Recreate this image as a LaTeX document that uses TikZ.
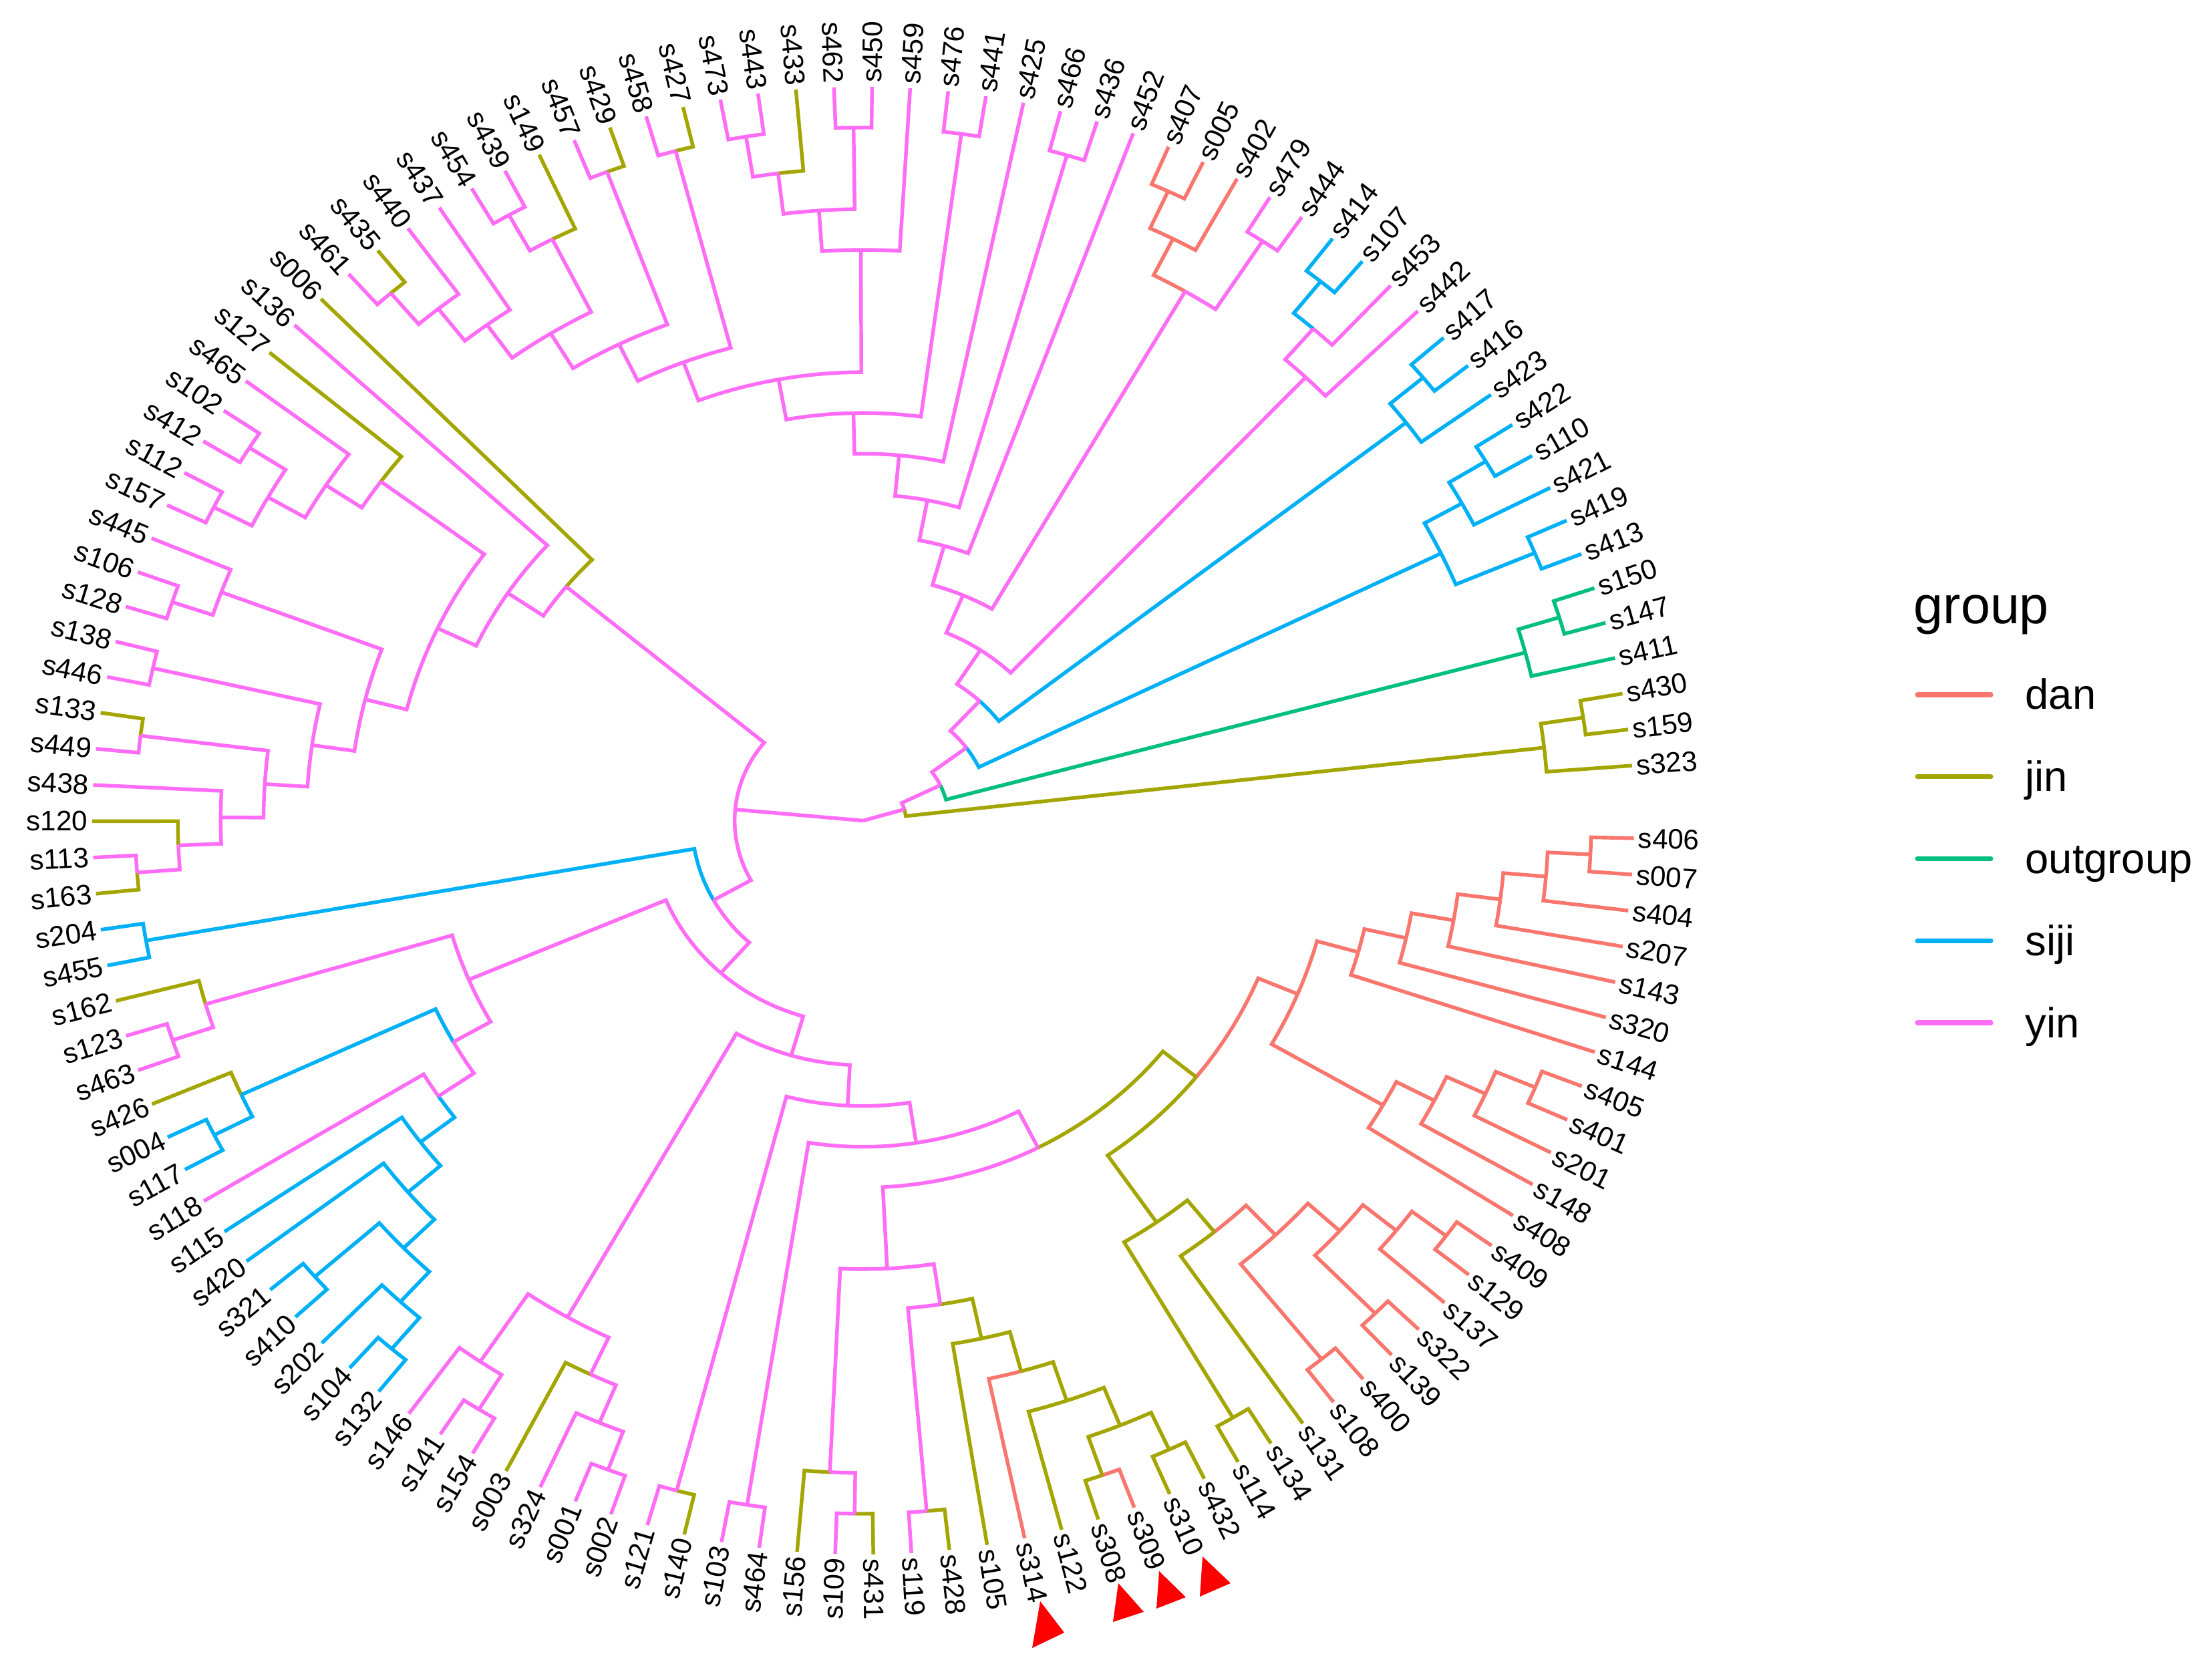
\documentclass[tikz,border=0pt]{standalone}
\usepackage{fontspec}
\setmainfont{Liberation Sans}
\definecolor{grp1}{HTML}{F8766D}
\definecolor{grp2}{HTML}{A3A500}
\definecolor{grp3}{HTML}{00BF7D}
\definecolor{grp4}{HTML}{00B0F6}
\definecolor{grp5}{HTML}{FF6CF5}
\newcommand\Rtip{11.54}
\newcommand\lev{0.64111}
\newcommand\tip[3]{%
  \pgfmathsetmacro\tipang{4.3+#2*2.8346}%
  \pgfmathsetmacro\labr{\Rtip+0.06}%
  \expandafter\xdef\csname ta@#1\endcsname{\tipang}%
  \expandafter\xdef\csname tr@#1\endcsname{\Rtip}%
  \expandafter\xdef\csname th@#1\endcsname{0}%
  \expandafter\xdef\csname tg@#1\endcsname{#3}%
  \coordinate (#1) at (\tipang:\Rtip);
  \pgfmathtruncatemacro\flip{and(\tipang>90,\tipang<270)}%
  \ifnum\flip=1
    \pgfmathsetmacro\labrot{\tipang-180}%
    \node[tiplab, anchor=east, rotate=\labrot] (lab#1) at (\tipang:\labr) {#1};
  \else
    \node[tiplab, anchor=west, rotate=\tipang] (lab#1) at (\tipang:\labr) {#1};
  \fi
}
\newcommand\twig[2]{%
  \edef\pa{\csname ta@#1\endcsname}%
  \edef\ca{\csname ta@#2\endcsname}%
  \edef\pr{\csname tr@#1\endcsname}%
  \edef\twigcol{grp\csname tg@#2\endcsname}%
  \draw[branch, draw=\twigcol] (#1) arc[start angle=\pa, end angle=\ca, radius=\pr] -- (#2);
}
\newcommand\clade[3]{%
  \edef\angb{\csname ta@#2\endcsname}\edef\angc{\csname ta@#3\endcsname}%
  \edef\hb{\csname th@#2\endcsname}\edef\hc{\csname th@#3\endcsname}%
  \edef\gb{\csname tg@#2\endcsname}\edef\gc{\csname tg@#3\endcsname}%
  \pgfmathsetmacro\cang{(\angb+\angc)/2}%
  \pgfmathtruncatemacro\chgt{max(\hb,\hc)+1}%
  \pgfmathtruncatemacro\cgrp{max(\gb,\gc)}%
  \pgfmathsetmacro\crad{(18-\chgt)*\lev}%
  \expandafter\xdef\csname ta@#1\endcsname{\cang}%
  \expandafter\xdef\csname tr@#1\endcsname{\crad}%
  \expandafter\xdef\csname th@#1\endcsname{\chgt}%
  \expandafter\xdef\csname tg@#1\endcsname{\cgrp}%
  \coordinate (#1) at (\cang:\crad);
  \twig{#1}{#2}\twig{#1}{#3}%
}
\begin{document}
\begin{tikzpicture}[
  branch/.style={line width=1.55pt},
  tiplab/.style={font=\fontsize{12}{14}\selectfont, inner sep=0pt}]
\useasboundingbox (0,0) rectangle (33.11,24.87);
\begin{scope}[shift={(12.92,12.585)}, yscale=0.952]
\tip{s323}{0}{2}
\tip{s159}{1}{2}
\tip{s430}{2}{2}
\tip{s411}{3}{3}
\tip{s147}{4}{3}
\tip{s150}{5}{3}
\tip{s413}{6}{4}
\tip{s419}{7}{4}
\tip{s421}{8}{4}
\tip{s110}{9}{4}
\tip{s422}{10}{4}
\tip{s423}{11}{4}
\tip{s416}{12}{4}
\tip{s417}{13}{4}
\tip{s442}{14}{5}
\tip{s453}{15}{5}
\tip{s107}{16}{4}
\tip{s414}{17}{4}
\tip{s444}{18}{5}
\tip{s479}{19}{5}
\tip{s402}{20}{1}
\tip{s005}{21}{1}
\tip{s407}{22}{1}
\tip{s452}{23}{5}
\tip{s436}{24}{5}
\tip{s466}{25}{5}
\tip{s425}{26}{5}
\tip{s441}{27}{5}
\tip{s476}{28}{5}
\tip{s459}{29}{5}
\tip{s450}{30}{5}
\tip{s462}{31}{5}
\tip{s433}{32}{2}
\tip{s443}{33}{5}
\tip{s473}{34}{5}
\tip{s427}{35}{2}
\tip{s458}{36}{5}
\tip{s429}{37}{2}
\tip{s457}{38}{5}
\tip{s149}{39}{2}
\tip{s439}{40}{5}
\tip{s454}{41}{5}
\tip{s437}{42}{5}
\tip{s440}{43}{5}
\tip{s435}{44}{2}
\tip{s461}{45}{5}
\tip{s006}{46}{2}
\tip{s136}{47}{5}
\tip{s127}{48}{2}
\tip{s465}{49}{5}
\tip{s102}{50}{5}
\tip{s412}{51}{5}
\tip{s112}{52}{5}
\tip{s157}{53}{5}
\tip{s445}{54}{5}
\tip{s106}{55}{5}
\tip{s128}{56}{5}
\tip{s138}{57}{5}
\tip{s446}{58}{5}
\tip{s133}{59}{2}
\tip{s449}{60}{5}
\tip{s438}{61}{5}
\tip{s120}{62}{2}
\tip{s113}{63}{5}
\tip{s163}{64}{2}
\tip{s204}{65}{4}
\tip{s455}{66}{4}
\tip{s162}{67}{2}
\tip{s123}{68}{5}
\tip{s463}{69}{5}
\tip{s426}{70}{2}
\tip{s004}{71}{4}
\tip{s117}{72}{4}
\tip{s118}{73}{5}
\tip{s115}{74}{4}
\tip{s420}{75}{4}
\tip{s321}{76}{4}
\tip{s410}{77}{4}
\tip{s202}{78}{4}
\tip{s104}{79}{4}
\tip{s132}{80}{4}
\tip{s146}{81}{5}
\tip{s141}{82}{5}
\tip{s154}{83}{5}
\tip{s003}{84}{2}
\tip{s324}{85}{5}
\tip{s001}{86}{5}
\tip{s002}{87}{5}
\tip{s121}{88}{5}
\tip{s140}{89}{2}
\tip{s103}{90}{5}
\tip{s464}{91}{5}
\tip{s156}{92}{2}
\tip{s109}{93}{5}
\tip{s431}{94}{2}
\tip{s119}{95}{5}
\tip{s428}{96}{2}
\tip{s105}{97}{2}
\tip{s314}{98}{1}
\tip{s122}{99}{2}
\tip{s308}{100}{2}
\tip{s309}{101}{1}
\tip{s310}{102}{2}
\tip{s432}{103}{2}
\tip{s114}{104}{2}
\tip{s134}{105}{2}
\tip{s131}{106}{2}
\tip{s108}{107}{1}
\tip{s400}{108}{1}
\tip{s139}{109}{1}
\tip{s322}{110}{1}
\tip{s137}{111}{1}
\tip{s129}{112}{1}
\tip{s409}{113}{1}
\tip{s408}{114}{1}
\tip{s148}{115}{1}
\tip{s201}{116}{1}
\tip{s401}{117}{1}
\tip{s405}{118}{1}
\tip{s144}{119}{1}
\tip{s320}{120}{1}
\tip{s143}{121}{1}
\tip{s207}{122}{1}
\tip{s404}{123}{1}
\tip{s007}{124}{1}
\tip{s406}{125}{1}
\clade{j1}{s159}{s430}
\clade{j2}{j1}{s323}
\clade{o1}{s147}{s150}
\clade{o2}{o1}{s411}
\clade{a1}{s413}{s419}
\clade{a2}{s110}{s422}
\clade{a3}{a2}{s421}
\clade{a4}{a1}{a3}
\clade{b1}{s416}{s417}
\clade{b2}{b1}{s423}
\clade{w1}{s414}{s107}
\clade{w2}{w1}{s453}
\clade{w3}{w2}{s442}
\clade{v1}{s444}{s479}
\clade{v2}{s005}{s407}
\clade{v3}{s402}{v2}
\clade{v4}{v1}{v3}
\clade{t1}{s443}{s473}
\clade{t2}{s433}{t1}
\clade{t3}{s462}{s450}
\clade{t4}{t3}{t2}
\clade{t5}{s459}{t4}
\clade{z1}{s435}{s461}
\clade{z2}{s440}{z1}
\clade{z3}{s437}{z2}
\clade{z4}{s439}{s454}
\clade{z5}{s149}{z4}
\clade{z6}{z5}{z3}
\clade{z7}{s429}{s457}
\clade{z8}{z7}{z6}
\clade{z9}{s427}{s458}
\clade{z10}{z9}{z8}
\clade{y1}{t5}{z10}
\clade{y2}{s441}{s476}
\clade{x9}{y2}{y1}
\clade{x8}{s425}{x9}
\clade{y3}{s436}{s466}
\clade{x7}{y3}{x8}
\clade{x6}{s452}{x7}
\clade{x5}{v4}{x6}
\clade{x4}{w3}{x5}
\clade{x3}{b2}{x4}
\clade{x2}{a4}{x3}
\clade{x1}{o2}{x2}
\clade{rr}{j2}{x1}
\clade{u1}{s113}{s163}
\clade{u2}{s120}{u1}
\clade{u3}{s438}{u2}
\clade{u4}{s133}{s449}
\clade{u5}{u4}{u3}
\clade{u6}{s138}{s446}
\clade{u7}{u6}{u5}
\clade{u8}{s106}{s128}
\clade{u9}{s445}{u8}
\clade{u10}{u9}{u7}
\clade{u11}{s102}{s412}
\clade{u12}{s112}{s157}
\clade{u13}{u11}{u12}
\clade{u14}{s465}{u13}
\clade{u15}{s127}{u14}
\clade{u16}{u15}{u10}
\clade{u17}{s136}{u16}
\clade{u18}{s006}{u17}
\clade{d1}{s204}{s455}
\clade{e1}{s123}{s463}
\clade{e2}{s162}{e1}
\clade{e3}{s004}{s117}
\clade{e4}{s426}{e3}
\clade{g1}{s104}{s132}
\clade{g2}{s202}{g1}
\clade{g3}{s321}{s410}
\clade{g4}{g3}{g2}
\clade{g5}{s420}{g4}
\clade{g6}{s115}{g5}
\clade{g7}{s118}{g6}
\clade{e5}{e4}{g7}
\clade{e6}{e2}{e5}
\clade{m1}{s141}{s154}
\clade{m2}{s146}{m1}
\clade{m3}{s001}{s002}
\clade{m4}{s324}{m3}
\clade{m5}{s003}{m4}
\clade{m6}{m2}{m5}
\clade{q1}{s109}{s431}
\clade{q2}{s156}{q1}
\clade{q3}{s308}{s309}
\clade{q4}{s310}{s432}
\clade{q5}{q3}{q4}
\clade{q6}{s122}{q5}
\clade{q7}{s314}{q6}
\clade{q8}{s105}{q7}
\clade{q9}{s119}{s428}
\clade{q10}{q9}{q8}
\clade{q11}{q2}{q10}
\clade{k1}{s129}{s409}
\clade{k2}{s137}{k1}
\clade{k3}{s139}{s322}
\clade{k4}{k3}{k2}
\clade{k5}{s108}{s400}
\clade{k6}{k5}{k4}
\clade{k7}{s131}{k6}
\clade{k8}{s114}{s134}
\clade{k9}{k8}{k7}
\clade{h1}{s007}{s406}
\clade{h2}{s404}{h1}
\clade{h3}{s207}{h2}
\clade{h4}{s143}{h3}
\clade{h5}{s320}{h4}
\clade{h6}{s144}{h5}
\clade{h7}{s401}{s405}
\clade{h8}{s201}{h7}
\clade{h9}{s148}{h8}
\clade{h10}{s408}{h9}
\clade{h11}{h6}{h10}
\clade{k10}{k9}{h11}
\clade{p1}{q11}{k10}
\clade{p2}{s103}{s464}
\clade{p3}{p2}{p1}
\clade{p4}{s121}{s140}
\clade{p5}{p4}{p3}
\clade{p6}{m6}{p5}
\clade{p7}{e6}{p6}
\clade{dd}{d1}{p7}
\clade{ll}{u18}{dd}
\coordinate (root) at (0,0);
\draw[branch, draw=grp5] (root) -- (rr);
\draw[branch, draw=grp5] (root) -- (ll);
\end{scope}
\fill[red] (15.57,0.90) -- (15.45,0.20) -- (15.93,0.43) -- cycle;
\fill[red] (16.74,1.17) -- (16.66,0.59) -- (17.12,0.74) -- cycle;
\fill[red] (17.35,1.35) -- (17.31,0.79) -- (17.75,0.96) -- cycle;
\fill[red] (18.00,1.57) -- (17.96,0.97) -- (18.42,1.17) -- cycle;
\node[anchor=base west, inner sep=0pt, font=\fontsize{22.5}{27}\selectfont] (legtitle) at (28.64,15.53) {group};
\foreach \g/\nm [count=\k from 0] in {1/dan,2/jin,3/outgroup,4/siji,5/yin} {
  \pgfmathsetmacro\ly{14.47-\k*1.2275}
  \coordinate (key\g a) at (28.70,\ly);
  \coordinate (key\g b) at (29.80,\ly);
  \draw[draw=grp\g, line width=2pt, line cap=round] (key\g a) -- (key\g b);
  \node[anchor=base west, inner sep=0pt, font=\fontsize{18}{22}\selectfont] (leg\nm) at (30.31,\ly-0.22) {\nm};
}
\end{tikzpicture}
\end{document}
